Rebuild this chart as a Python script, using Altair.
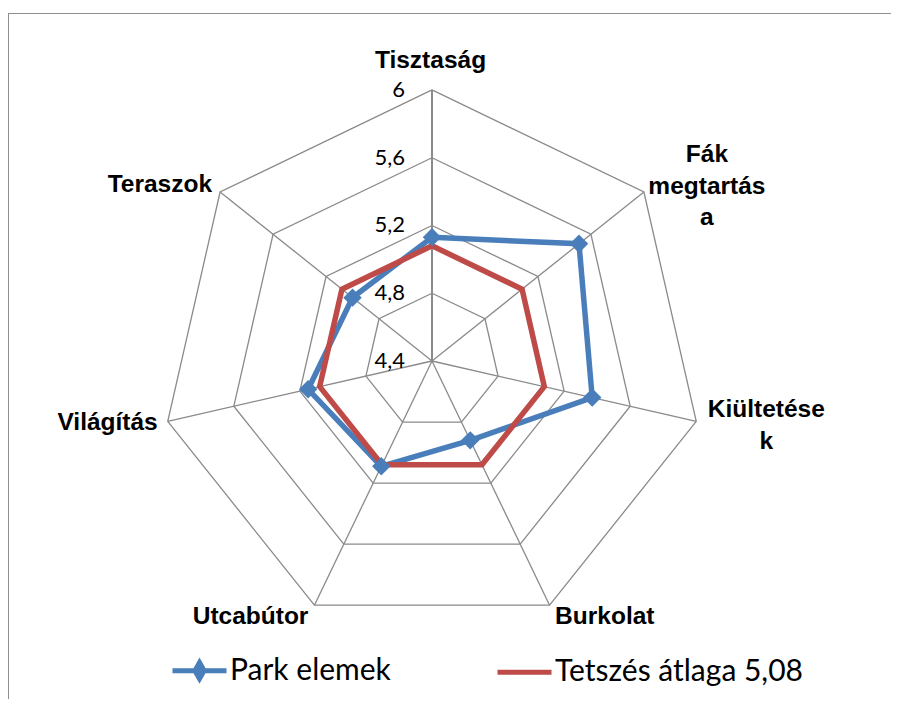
import math
import pandas as pd
import altair as alt

# ---------------- data ----------------
categories = ["Tisztaság", "Fák megtartása", "Kiültetések", "Burkolat",
              "Utcabútor", "Világítás", "Teraszok"]
category_labels = ["Tisztaság", "Fák\nmegtartás\na", "Kiültetése\nk", "Burkolat",
                   "Utcabútor", "Világítás", "Teraszok"]
park_values = [5.13, 5.51, 5.37, 4.92, 5.09, 5.15, 5.00]
average_values = [5.08, 5.08, 5.08, 5.08, 5.08, 5.08, 5.08]
series_names = ["Park elemek", "Tetszés átlaga 5,08"]
tick_values = [4.4, 4.8, 5.2, 5.6, 6.0]
tick_labels = ["4,4", "4,8", "5,2", "5,6", "6"]

# ---------------- layout constants ----------------
W, VH = 883, 686            # view size (px)
CX, CY = 424, 348           # radar centre inside the view (px)
PX_PER_UNIT = 169.4         # pixels per value unit
R_MIN = tick_values[0]
R_MAX = tick_values[-1]
N = len(categories)

GRID = "#8a8a8a"
BLUE = "#4A7EBB"
RED = "#BE4B48"
LABEL_FONT = "Liberation Sans, Arial, sans-serif"
TEXT_FONT = "Lato, Open Sans, sans-serif"


def polar(value, i):
    r = value - R_MIN
    a = 2 * math.pi * i / N
    return r * math.sin(a), r * math.cos(a)


# series table (closed polygons)
rows = []
for name, vals in zip(series_names, [park_values, average_values]):
    for k in range(N + 1):
        i = k % N
        x, y = polar(vals[i], i)
        rows.append({"series": name, "order": k, "cat": categories[i],
                     "value": vals[i], "x": x, "y": y})
series_df = pd.DataFrame(rows)
park_points = series_df[(series_df.series == series_names[0]) & (series_df.order < N)]
legend_rows = series_df[series_df.order == 0]

# grid rings
ring_rows = []
for t in tick_values[1:]:
    for k in range(N + 1):
        x, y = polar(t, k % N)
        ring_rows.append({"ring": str(t), "order": k, "x": x, "y": y})
ring_df = pd.DataFrame(ring_rows)

# spokes
spoke_rows = []
for i in range(N):
    x, y = polar(R_MAX, i)
    spoke_rows.append({"i": i, "x0": 0.0, "y0": 0.0, "x1": x, "y1": y})
spoke_df = pd.DataFrame(spoke_rows)

# tick labels
tick_df = pd.DataFrame({"x": [0.0] * len(tick_values),
                        "y": [t - R_MIN for t in tick_values],
                        "label": tick_labels})

# category labels anchored at the outer vertex
lab_rows = []
for i in range(N):
    x, y = polar(R_MAX, i)
    lab_rows.append({"i": i, "x": x, "y": y, "label": category_labels[i]})
lab_df = pd.DataFrame(lab_rows)

# ---------------- scales ----------------
xs = alt.Scale(domain=[-CX / PX_PER_UNIT, (W - CX) / PX_PER_UNIT], nice=False, zero=False)
ys = alt.Scale(domain=[-(VH - CY) / PX_PER_UNIT, CY / PX_PER_UNIT], nice=False, zero=False)
X = lambda f: alt.X(f, type="quantitative", scale=xs, axis=None)
Y = lambda f: alt.Y(f, type="quantitative", scale=ys, axis=None)

legend_props = dict(
    title=None, orient="none", legendX=162, legendY=628, direction="horizontal",
    symbolSize=2916, symbolStrokeWidth=5, symbolOpacity=1,
    labelFont=TEXT_FONT, labelFontSize=30, labelColor="black",
    labelOffset=1, columnPadding=96, padding=0, labelLimit=500)
legend = alt.Legend(**legend_props)
color_scale = alt.Scale(domain=series_names, range=[BLUE, RED])
COLOR = alt.Color("series:N", scale=color_scale, legend=alt.Legend(**legend_props))

# ---------------- layers ----------------
one = pd.DataFrame({"a": [0]})
frame_left = alt.Chart(one).mark_rule(color="#8f8f8f", strokeWidth=1).encode(
    x=alt.value(0.5), y=alt.value(0), y2=alt.value(VH))
frame_top = alt.Chart(one).mark_rule(color="#8f8f8f", strokeWidth=1).encode(
    x=alt.value(0), x2=alt.value(W), y=alt.value(0.5))

rings = alt.Chart(ring_df).mark_line(color=GRID, strokeWidth=1.3).encode(
    x=X("x"), y=Y("y"), detail="ring:N", order="order:Q")

spokes = alt.Chart(spoke_df).mark_rule(color=GRID).encode(
    x=X("x0"), y=Y("y0"), x2="x1:Q", y2="y1:Q",
    strokeWidth=alt.condition("datum.i == 0", alt.value(2), alt.value(1.3)))

lines = alt.Chart(series_df).mark_line(strokeWidth=5.5).encode(
    x=X("x"), y=Y("y"), color=COLOR, order="order:Q")

points = alt.Chart(park_points).mark_point(
    shape="diamond", filled=True, size=340, opacity=1).encode(
    x=X("x"), y=Y("y"), color=COLOR)

# invisible layer that only defines the legend symbols (line + diamond / line)
legend_layer = alt.Chart(legend_rows).mark_point(filled=True, opacity=0).encode(
    x=X("x"), y=Y("y"),
    fill=alt.Fill("series:N", scale=alt.Scale(domain=series_names, range=[BLUE, RED]),
                  legend=legend),
    stroke=alt.Stroke("series:N", scale=alt.Scale(domain=series_names, range=[BLUE, RED]),
                      legend=legend),
    shape=alt.Shape("series:N", scale=alt.Scale(
        domain=series_names,
        range=["M-1,0H1M0,-0.3L0.17,0L0,0.3L-0.17,0Z", "M-1,0H1"]), legend=legend))

ticks = alt.Chart(tick_df).mark_text(
    align="right", baseline="middle", dx=-27, font=TEXT_FONT, fontSize=22,
    color="black").encode(x=X("x"), y=Y("y"), text="label:N")

label_style = [
    # (index, align, baseline, dx, dy)
    (0, "center", "alphabetic", -1.5, -22),
    (1, "center", "middle", 63, -37),
    (2, "center", "middle", 70, -11),
    (3, "left", "middle", 5.5, 12),
    (4, "right", "middle", -6, 12),
    (5, "right", "middle", -10, 2),
    (6, "right", "middle", -8, -7),
]
label_layers = []
for i, al, bl, dx, dy in label_style:
    label_layers.append(
        alt.Chart(lab_df[lab_df.i == i]).mark_text(
            align=al, baseline=bl, dx=dx, dy=dy, font=LABEL_FONT, fontSize=24.5,
            fontWeight="bold", lineBreak="\n", lineHeight=31.5, color="black"
        ).encode(x=X("x"), y=Y("y"), text="label:N"))

chart = alt.layer(
    frame_left, frame_top, rings, spokes, lines, points, legend_layer, ticks,
    *label_layers
).properties(
    width=W, height=VH,
    padding={"left": 0, "top": 5, "right": 0, "bottom": 0},
    autosize=alt.AutoSizeParams(type="none"),
).configure_view(stroke=None)

chart.save("out.html", embed_options={"renderer": "svg", "actions": False})
